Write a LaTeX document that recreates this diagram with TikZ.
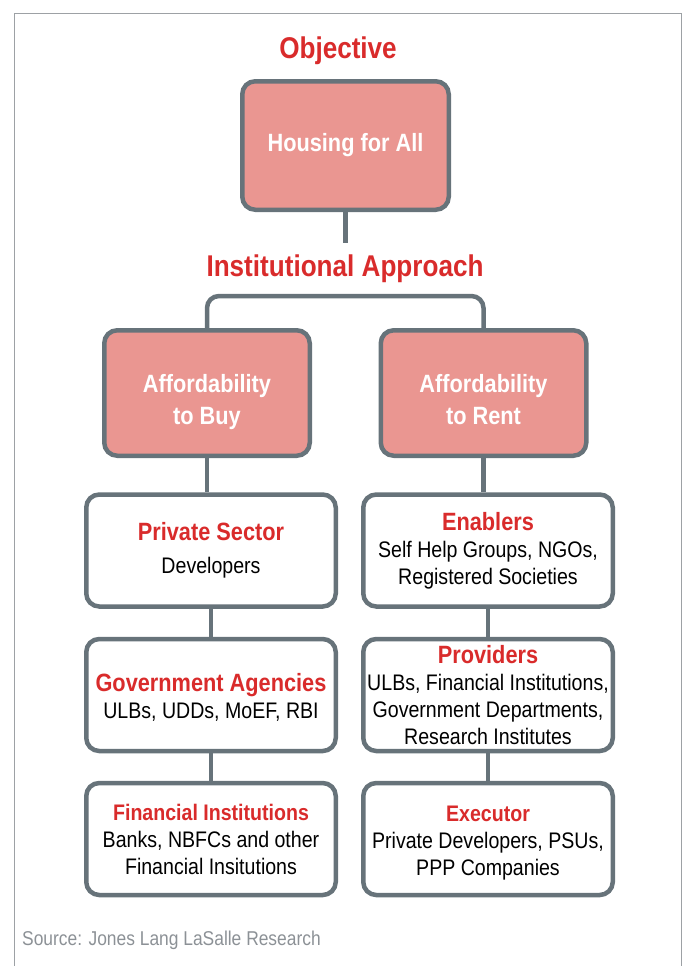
\documentclass[tikz,border=0pt]{standalone}
\usepackage{fontspec}
\setmainfont{Liberation Sans}[FakeStretch=0.87]
\usepackage{tikz}

\definecolor{boxgray}{HTML}{67737A}
\definecolor{boxpink}{HTML}{EA9691}
\definecolor{headred}{HTML}{D92B2B}
\definecolor{framegray}{HTML}{9DA1A5}
\definecolor{srcgray}{HTML}{8C9196}

% red title line inside a white box
\newcommand{\ttl}[2][25]{{\fontsize{#1}{27}\selectfont\bfseries\color{headred}#2}}
% lines set a little lower than the middle of the box
\newcommand{\lowtext}[2]{\raisebox{-#1}[\height][\depth]{\begin{tabular}{@{}c@{}}#2\end{tabular}}}

\begin{document}
\begin{tikzpicture}[x=1pt,y=-1pt,
  pinkbox/.style={draw=boxgray,line width=4.5pt,fill=boxpink,rounded corners=13pt,
    minimum width=205.5pt,minimum height=125.5pt,text=white,align=center,
    font=\fontsize{25}{32}\selectfont\bfseries},
  whitebox/.style={draw=boxgray,line width=4.5pt,fill=white,rounded corners=13pt,
    minimum width=249.5pt,minimum height=112pt,inner sep=1pt,align=center,
    font=\fontsize{22.5}{27}\selectfont},
  link/.style={draw=boxgray,line width=4.5pt},
  heading/.style={text=headred,font=\fontsize{30}{36}\selectfont\bfseries}]
\useasboundingbox (0,0) rectangle (686,966);

\draw[framegray,line width=1.3pt] (14.3,966) -- (14.3,13.3) -- (681.3,13.3) -- (681.3,966);

\node[heading] (objective) at (338,51) {Objective};
\node[pinkbox,minimum width=206.5pt,minimum height=128.5pt] (housing) at (345.5,145.5) {Housing for All};
\node[heading] (approach) at (345,269) {Institutional Approach};

\node[pinkbox] (buy) at (207,393) {\lowtext{9pt}{Affordability\\to Buy}};
\node[pinkbox] (rent) at (483.5,393) {\lowtext{9pt}{Affordability\\to Rent}};

\node[whitebox] (priv) at (211,550.5) {\ttl{Private Sector}\\[6pt]Developers};
\node[whitebox] (enab) at (488,550.5) {\ttl{Enablers}\\Self Help Groups, NGOs,\\Registered Societies};
\node[whitebox] (gov) at (211,695) {\lowtext{5pt}{\ttl{Government Agencies}\\ULBs, UDDs, MoEF, RBI}};
\node[whitebox] (prov) at (488,695) {\ttl{Providers}\\ULBs, Financial Institutions,\\Government Departments,\\Research Institutes};
\node[whitebox] (fin) at (211,839) {\ttl[22.5]{Financial Institutions}\\Banks, NBFCs and other\\Financial Insitutions};
\node[whitebox] (exec) at (488,839) {\lowtext{4pt}{\ttl[22.5]{Executor}\\Private Developers, PSUs,\\PPP Companies}};

\node[anchor=west,inner sep=0pt,text=srcgray,font=\fontsize{20}{24}\selectfont] (source) at (22,940) {Source: Jones Lang LaSalle Research};

% connectors
\coordinate (stem) at (345.5,243);
\coordinate (fork) at (345,296);
\draw[link] (housing.south) -- (stem);
\draw[link,rounded corners=12pt] (buy.north) |- (fork) -| (rent.north);
\foreach \a/\b in {buy/priv,priv/gov,gov/fin,rent/enab,enab/prov,prov/exec} {
\draw[link] (\a.south) -- (\a.south |- \b.north);
}
\end{tikzpicture}
\end{document}
